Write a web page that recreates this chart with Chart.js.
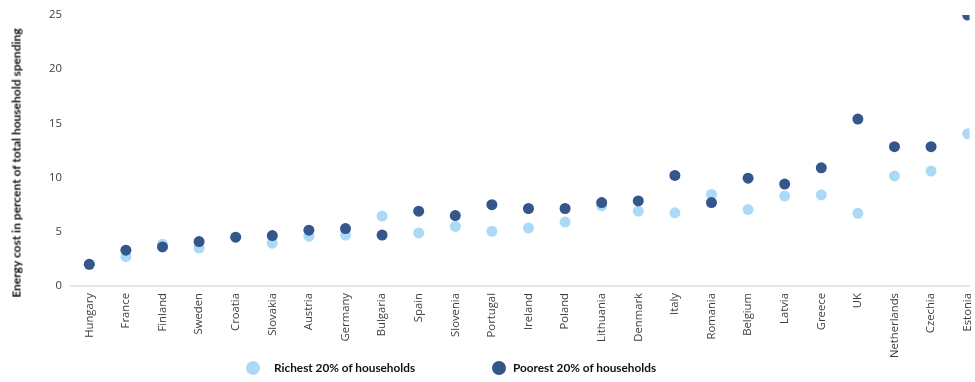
<!DOCTYPE html>
<html>
<head>
<meta charset="utf-8">
<script src="https://cdn.jsdelivr.net/npm/chart.js@4/dist/chart.umd.min.js"></script>
<style>
  html, body { margin: 0; padding: 0; background: #fff; }
  #wrap { position: relative; width: 975px; height: 382px; }
  #legend { position: absolute; top: 360px; left: 0; width: 975px; height: 16px; font: bold 11.8px Lato, sans-serif; color: #111; }
  #legend span { position: absolute; top: 0; line-height: 16px; white-space: nowrap; }
  #legend i { position: absolute; top: 1px; width: 14px; height: 14px; border-radius: 50%; }
  #ytitle { position: absolute; left: 16px; top: 163px; transform: translate(-50%, -50%) rotate(-90deg); white-space: nowrap; font: bold 12px Lato, sans-serif; color: #111; }
</style>
</head>
<body>
<div id="wrap">
  <canvas id="myChart" width="975" height="382"></canvas>
  <div id="ytitle">Energy cost in percent of total household spending</div>
  <div id="legend">
    <i style="left:246px;background:#acdaf6"></i><span style="left:274px">Richest 20% of households</span>
    <i style="left:492px;background:#34568b"></i><span style="left:513px">Poorest 20% of households</span>
  </div>
</div>
<script>
// Data
const countries = ['Hungary', 'France', 'Finland', 'Sweden', 'Croatia', 'Slovakia', 'Austria', 'Germany', 'Bulgaria', 'Spain', 'Slovenia', 'Portugal', 'Ireland', 'Poland', 'Lithuania', 'Denmark', 'Italy', 'Romania', 'Belgium', 'Latvia', 'Greece', 'UK', 'Netherlands', 'Czechia', 'Estonia']
const richest = [2.0, 2.7, 3.85, 3.5, 4.5, 3.95, 4.6, 4.7, 6.45, 4.9, 5.5, 5.05, 5.35, 5.9, 7.4, 6.9, 6.75, 8.45, 7.05, 8.3, 8.4, 6.7, 10.15, 10.6, 14.05]
const poorest = [2.0, 3.3, 3.6, 4.1, 4.5, 4.65, 5.15, 5.3, 4.7, 6.9, 6.5, 7.5, 7.15, 7.15, 7.7, 7.85, 10.2, 7.7, 9.95, 9.4, 10.9, 15.4, 12.85, 12.85, 25.0]
const yTicks = [0, 5, 10, 15, 20, 25]

const toPoints = arr => arr.map((v, i) => ({ x: i, y: v }))
const tickFont = '"Open Sans", sans-serif'

let myChart = document.getElementById('myChart')
let scatterChart = new Chart(myChart, {
    type: 'scatter',
    data: {
        datasets: [{
            label: 'Richest 20% of households',
            data: toPoints(richest),
            backgroundColor: '#acdaf6',
            borderWidth: 0,
            pointRadius: 5.5,
            order: 2,
        }, {
            label: 'Poorest 20% of households',
            data: toPoints(poorest),
            backgroundColor: '#34568b',
            borderWidth: 0,
            pointRadius: 5.5,
            order: 1,
        }]
    },
    options: {
        responsive: false,
        animation: false,
        layout: { padding: { top: 15, right: 0, bottom: 0, left: 0 } },
        plugins: { legend: { display: false }, tooltip: { enabled: false } },
        scales: {
            x: {
                type: 'linear',
                min: -0.5,
                max: 24.05,
                afterBuildTicks: axis => { axis.ticks = countries.map((c, i) => ({ value: i })) },
                afterFit: axis => {
                    axis.height = 96
                    axis.paddingLeft = 0
                    axis.paddingRight = 0
                },
                grid: { display: false, drawTicks: false },
                border: { display: true, color: '#e6e6e1', width: 2 },
                ticks: {
                    autoSkip: false,
                    minRotation: 90,
                    maxRotation: 90,
                    padding: 7,
                    color: '#3c3c3c',
                    font: { family: tickFont, size: 11.3 },
                    callback: v => countries[v],
                },
            },
            y: {
                min: 0,
                max: 25,
                afterBuildTicks: axis => { axis.ticks = yTicks.map(v => ({ value: v })) },
                afterFit: axis => {
                    axis.width = 71
                    axis.paddingTop = 0
                    axis.paddingBottom = 0
                },
                grid: { display: false, drawTicks: false },
                border: { display: false },
                ticks: {
                    padding: 9,
                    color: '#3c3c3c',
                    font: { family: tickFont, size: 11.3 },
                },
            },
        },
    },
})
</script>
</body>
</html>
